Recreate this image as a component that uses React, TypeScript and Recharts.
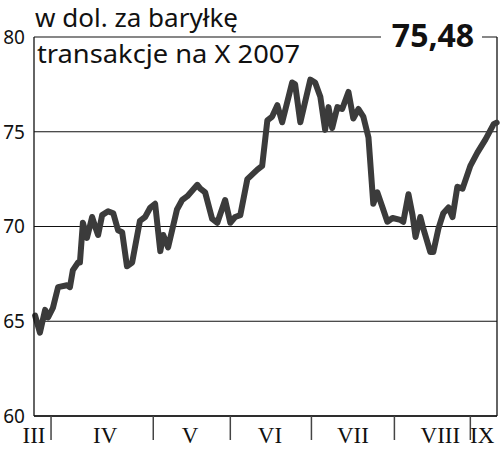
import React from 'react';
import { LineChart, Line, XAxis, YAxis, CartesianGrid, ReferenceLine } from 'recharts';

// trading-day position (0 = start of series) and price in USD per barrel
const days = [
  0.3, 1.6, 3.0, 3.8, 5.1, 6.5, 8.9, 9.7, 10.5, 11.9, 12.4, 13.2, 14.3, 15.7, 16.5, 17.3,
  18.4, 20.0, 21.4, 22.7, 23.8, 25.1, 26.5, 28.6, 30.0, 31.4, 32.7, 34.1, 34.9, 36.2, 38.6,
  40.0, 41.4, 44.1, 44.9, 46.2, 48.1, 49.5, 51.6, 53.0, 54.3, 55.7, 57.6, 60.3, 61.6, 63.0,
  64.3, 65.7, 67.0, 69.7, 70.5, 71.9, 74.6, 75.9, 77.3, 78.6, 79.5, 80.5, 81.9, 83.2, 84.9,
  86.2, 87.6, 88.9, 90.3, 91.6, 92.7, 94.1, 95.4, 96.8, 98.9, 99.7, 101.1, 102.2, 103.0,
  104.3, 105.1, 107.0, 107.8, 109.2, 110.5, 111.9, 113.0, 114.3, 115.7, 117.8, 119.7,
  121.9, 124.1, 124.9,
];
const prices = [
  65.3, 64.4, 65.6, 65.2, 65.7, 66.8, 66.9, 66.8, 67.7, 68.1, 68.1, 70.2, 69.4, 70.5, 70.0, 69.55,
  70.6, 70.8, 70.7, 69.8, 69.7, 67.9, 68.1, 70.3, 70.5, 71.0, 71.2, 68.7, 69.55, 68.9, 70.9,
  71.4, 71.6, 72.2, 72.0, 71.8, 70.4, 70.2, 71.4, 70.2, 70.5, 70.6, 72.5, 73.0, 73.2, 75.6,
  75.8, 76.4, 75.5, 77.6, 77.5, 75.5, 77.75, 77.6, 76.85, 75.1, 76.3, 75.2, 76.3, 76.2, 77.1,
  75.7, 76.2, 75.8, 74.7, 71.2, 71.8, 71.0, 70.25, 70.45, 70.35, 70.25, 71.7, 70.6, 69.45,
  70.5, 69.9, 68.65, 68.65, 69.9, 70.7, 71.0, 70.5, 72.1, 72.0, 73.2, 73.9,
  74.6, 75.4, 75.48,
];

const yTicks = [60, 65, 70, 75, 80];
const monthLabels = ['III', 'IV', 'V', 'VI', 'VII', 'VIII', 'IX'];
const monthLabelPos = [0, 19.2, 42.1, 63.7, 86.1, 109.7, 121.0];
const monthBounds = [4.6, 32.2, 53.0, 74.9, 97.3, 117.8];

const title = 'w dol. za baryłkę';
const subtitle = 'transakcje na X 2007';
const lastValue = '75,48';

const W = 500;
const H = 449;
const X_AXIS_H = 33;
const PLOT_BOTTOM = H - X_AXIS_H;

const data = days.map((d, i) => ({ d, p: prices[i] }));

const SANS = '"Noto Sans", "DejaVu Sans", sans-serif';

const YTick = (props: any) => {
  const { y, payload } = props;
  return (
    <text x={25} y={y} dy="0.36em" textAnchor="end" fontFamily={SANS} fontSize={19} fill="#111">
      {payload.value}
    </text>
  );
};

const XTick = (props: any) => {
  const { x, payload } = props;
  const v = payload.value;
  const bi = monthBounds.indexOf(v);
  if (bi >= 0) {
    return <line x1={x} x2={x} y1={PLOT_BOTTOM} y2={PLOT_BOTTOM + 24} stroke="#444" strokeWidth={1.5} />;
  }
  const li = monthLabelPos.indexOf(v);
  return (
    <text
      x={x}
      y={PLOT_BOTTOM + 27}
      textAnchor="middle"
      fontFamily='"Liberation Serif", "Times New Roman", serif'
      fontSize={23}
      fill="#111"
    >
      {li >= 0 ? monthLabels[li] : ''}
    </text>
  );
};

export default function App() {
  return (
    <div style={{ position: 'absolute', left: 0, top: 0, width: W, height: H, background: '#fff' }}>
      <LineChart width={W} height={H} data={data} margin={{ top: 37, right: 3, bottom: 0, left: 0 }}>
        <CartesianGrid vertical={false} stroke="#111" strokeWidth={1.2} />
        <XAxis
          dataKey="d"
          type="number"
          domain={[0, 125]}
          ticks={[...monthBounds, ...monthLabelPos]}
          interval={0}
          height={X_AXIS_H}
          tickLine={false}
          axisLine={{ stroke: '#111', strokeWidth: 1.3 }}
          tick={<XTick />}
        />
        <YAxis
          type="number"
          domain={[60, 80]}
          ticks={yTicks}
          interval={0}
          width={34}
          tickLine={false}
          axisLine={{ stroke: '#111', strokeWidth: 1.3 }}
          tick={<YTick />}
        />
        <ReferenceLine x={125} stroke="#111" strokeWidth={1.3} />
        <Line
          type="linear"
          dataKey="p"
          stroke="#3b3b3b"
          strokeWidth={6}
          strokeLinejoin="round"
          strokeLinecap="round"
          dot={false}
          isAnimationActive={false}
        />
      </LineChart>
      <svg width={W} height={H} style={{ position: 'absolute', left: 0, top: 0, pointerEvents: 'none' }}>
        <text x={35} y={27} fontFamily={SANS} fontSize={25} fill="#111" textLength={203} lengthAdjust="spacingAndGlyphs">
          {title}
        </text>
        <text x={37} y={63} fontFamily={SANS} fontSize={25} fill="#111" textLength={263} lengthAdjust="spacingAndGlyphs">
          {subtitle}
        </text>
        <rect x={381} y={20} width={101} height={34} fill="#fff" />
        <text x={433} y={47} textAnchor="middle" fontFamily={SANS} fontWeight={700} fontSize={32} fill="#111">
          {lastValue}
        </text>
      </svg>
    </div>
  );
}
